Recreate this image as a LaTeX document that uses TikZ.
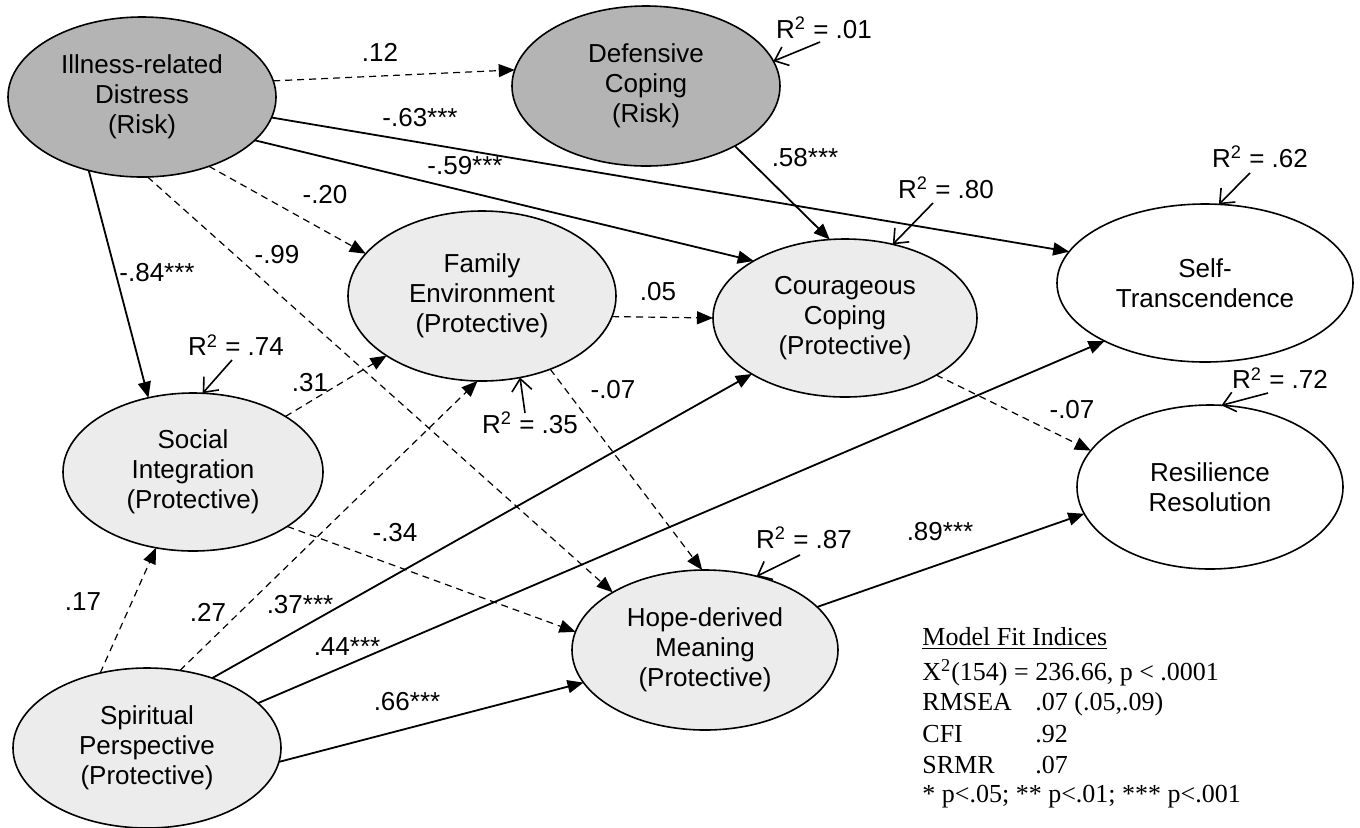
\documentclass[tikz,border=0pt]{standalone}
\usepackage{fontspec}
\setmainfont{Liberation Sans}
\newfontfamily\timesfont{Liberation Serif}
\usetikzlibrary{shapes.geometric,arrows.meta}
\definecolor{riskgray}{RGB}{180,180,180}
\definecolor{protgray}{RGB}{236,236,236}
\begin{document}
\begin{tikzpicture}[x=0.5pt,y=-0.5pt,
  lv/.style={ellipse, draw=black, line width=0.8pt, inner sep=0pt, outer sep=0pt, align=center, font=\fontsize{13}{15}\selectfont},
  risk/.style={lv, fill=riskgray},
  prot/.style={lv, fill=protgray},
  outc/.style={lv, fill=white},
  sig/.style={line width=0.9pt, -{Triangle[length=8pt,width=6.5pt]}},
  ns/.style={line width=0.6pt, dash pattern=on 3.5pt off 2.5pt, -{Triangle[length=8pt,width=6.5pt]}},
  rsq/.style={line width=0.8pt, -{Straight Barb[length=6pt,width=10pt]}},
  lbl/.style={font=\fontsize{13}{15}\selectfont, inner sep=0pt},
  fit/.style={font=\timesfont\fontsize{13}{15}\selectfont, inner sep=0pt, anchor=base west}
]
\useasboundingbox[fill=white] (0,0) rectangle (1360,827);

% latent variables
\node[risk, minimum width=134pt, minimum height=80pt] (ill) at (142,97) {Illness-related\\Distress\\(Risk)};
\node[risk, minimum width=134pt, minimum height=80pt] (def) at (646,86) {Defensive\\Coping\\(Risk)};
\node[prot, minimum width=134pt, minimum height=85pt] (fam) at (482,296) {Family\\Environment\\(Protective)};
\node[prot, minimum width=132pt, minimum height=79pt] (cou) at (845,318) {Courageous\\Coping\\(Protective)};
\node[prot, minimum width=130pt, minimum height=79pt] (soc) at (193,472) {Social\\Integration\\(Protective)};
\node[prot, minimum width=134pt, minimum height=80pt] (spi) at (147,748) {Spiritual\\Perspective\\(Protective)};
\node[prot, minimum width=133pt, minimum height=80pt] (hope) at (705,650) {Hope-derived\\Meaning\\(Protective)};
\node[outc, minimum width=148pt, minimum height=79pt] (self) at (1205,283) {Self-\\Transcendence};
\node[outc, minimum width=133pt, minimum height=82pt] (res) at (1210,487) {Resilience\\Resolution};

% paths
\draw[ns]  (ill.7)    -- (def.173);
\draw[sig] (ill.-9)   -- (self.167);
\draw[sig] (ill.-21)  -- (cou.148);
\draw[ns]  (ill.-46)  -- (fam.160);
\draw[ns]  (ill.-86)  -- (hope.148);
\draw[sig] (ill.-126) -- (soc.121);
\draw[sig] (def.-34)  -- (cou.101);
\draw[ns]  (fam.-9)   -- (cou.180);
\draw[ns]  (fam.-47)  -- (hope.92);
\draw[ns]  (soc.31)   -- (fam.212);
\draw[ns]  (soc.-30)  -- (hope.172);
\draw[ns]  (spi.122)  -- (soc.244);
\draw[ns]  (spi.67)   -- (fam.267);
\draw[sig] (spi.47)   -- (cou.211);
\draw[sig] (spi.22)   -- (self.210);
\draw[sig] (spi.-6)   -- (hope.195);
\draw[ns]  (cou.-32)  -- (res.163);
\draw[sig] (hope.21)  -- (res.192);

% path coefficients
\node[lbl] (l1)  at (380,52)  {.12};
\node[lbl] (l2)  at (420,118) {-.63***};
\node[lbl] (l3)  at (465,166) {-.59***};
\node[lbl] (l4)  at (325,195) {-.20};
\node[lbl] (l5)  at (277,255) {-.99};
\node[lbl] (l6)  at (157,273) {-.84***};
\node[lbl] (l7)  at (805,158) {.58***};
\node[lbl] (l8)  at (658,292) {.05};
\node[lbl] (l9)  at (613,390) {-.07};
\node[lbl] (l10) at (310,383) {.31};
\node[lbl] (l11) at (395,533) {-.34};
\node[lbl] (l12) at (83,602)  {.17};
\node[lbl] (l13) at (208,612) {.27};
\node[lbl] (l14) at (300,605) {.37***};
\node[lbl] (l15) at (347,647) {.44***};
\node[lbl] (l16) at (407,702) {.66***};
\node[lbl] (l17) at (1072,410) {-.07};
\node[lbl] (l18) at (940,532) {.89***};

% R squared
\node[lbl] (r1) at (824,28)  {R\textsuperscript{2} = .01};
\node[lbl] (r2) at (946,188) {R\textsuperscript{2} = .80};
\node[lbl] (r3) at (1260,157) {R\textsuperscript{2} = .62};
\node[lbl] (r4) at (1280,378) {R\textsuperscript{2} = .72};
\node[lbl] (r5) at (236,345) {R\textsuperscript{2} = .74};
\node[lbl] (r6) at (530,423) {R\textsuperscript{2} = .35};
\node[lbl] (r7) at (804,538) {R\textsuperscript{2} = .87};
\coordinate (c1) at (820,42);
\coordinate (c2) at (933,203);
\coordinate (c3) at (1250,173);
\coordinate (c4) at (1268,393);
\coordinate (c5) at (232,360);
\coordinate (c6) at (525,413);
\coordinate (c7) at (800,555);
\draw[rsq] (c1) -- (def.11);
\draw[rsq] (c2) -- (cou.57);
\draw[rsq] (c3) -- (self.80);
\draw[rsq] (c4) -- (res.82);
\draw[rsq] (c5) -- (soc.83);
\draw[rsq] (c6) -- (fam.-65);
\draw[rsq] (c7) -- (hope.55);

% fit indices
\node[fit] (f0) at (922,645) {\underline{Model Fit Indices}};
\node[fit] (f1) at (922,680) {X\textsuperscript{2}(154) = 236.66, p < .0001};
\node[fit] (f2) at (922,710) {RMSEA};
\node[fit] (f2b) at (1035,710) {.07 (.05,.09)};
\node[fit] (f3) at (922,742) {CFI};
\node[fit] (f3b) at (1035,742) {.92};
\node[fit] (f4) at (922,773) {SRMR};
\node[fit] (f4b) at (1035,773) {.07};
\node[fit] (f5) at (922,802) {* p<.05; ** p<.01; *** p<.001};
\end{tikzpicture}
\end{document}
